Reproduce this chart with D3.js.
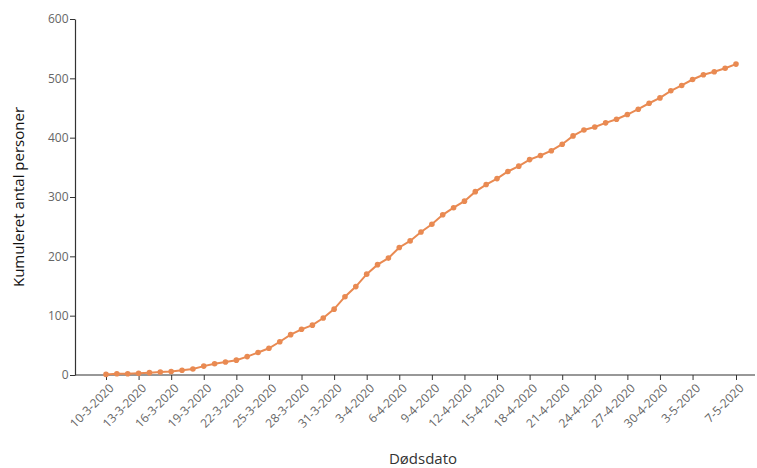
<!DOCTYPE html>
<html>
<head>
<meta charset="utf-8">
<script src="https://cdn.jsdelivr.net/npm/d3@7"></script>
<style>
  html, body { margin: 0; padding: 0; background: #fff; }
  svg { display: block; }
</style>
</head>
<body>
<svg id="chart" width="757" height="468"></svg>
<script>
const dates = [
  "10-3-2020","11-3-2020","12-3-2020","13-3-2020","14-3-2020","15-3-2020","16-3-2020","17-3-2020","18-3-2020","19-3-2020",
  "20-3-2020","21-3-2020","22-3-2020","23-3-2020","24-3-2020","25-3-2020","26-3-2020","27-3-2020","28-3-2020","29-3-2020",
  "30-3-2020","31-3-2020","1-4-2020","2-4-2020","3-4-2020","4-4-2020","5-4-2020","6-4-2020","7-4-2020","8-4-2020",
  "9-4-2020","10-4-2020","11-4-2020","12-4-2020","13-4-2020","14-4-2020","15-4-2020","16-4-2020","17-4-2020","18-4-2020",
  "19-4-2020","20-4-2020","21-4-2020","22-4-2020","23-4-2020","24-4-2020","25-4-2020","26-4-2020","27-4-2020","28-4-2020",
  "29-4-2020","30-4-2020","1-5-2020","2-5-2020","3-5-2020","4-5-2020","5-5-2020","6-5-2020","7-5-2020"
];
const cumulative = [
  1,2,2,3,4,5,6,8,10,15,
  19,22,25,31,38,45,56,68,77,84,
  96,111,132,149,170,186,197,215,226,241,
  254,270,282,293,309,321,331,343,352,363,
  370,378,389,403,413,418,425,431,439,448,
  458,467,479,488,498,506,511,517,524
];
const xTickLabels = ["10-3-2020","13-3-2020","16-3-2020","19-3-2020","22-3-2020","25-3-2020","28-3-2020","31-3-2020",
  "3-4-2020","6-4-2020","9-4-2020","12-4-2020","15-4-2020","18-4-2020","21-4-2020","24-4-2020","27-4-2020","30-4-2020",
  "3-5-2020","7-5-2020"];
const yTicks = [0,100,200,300,400,500,600];
const yTitle = "Kumuleret antal personer";
const xTitle = "Dødsdato";

const svg = d3.select("#chart");
const font = "'Open Sans', 'DejaVu Sans', sans-serif";
const lineColor = "#e98a52";

const x = d3.scalePoint().domain(dates).range([106, 736]);
const y = d3.scaleLinear().domain([0, 600]).range([375, 19]);
const axisLeftX = 75, axisRightX = 755;

// Y axis
const gy = svg.append("g").attr("transform", `translate(${axisLeftX},0)`)
  .call(d3.axisLeft(y).tickValues(yTicks).tickSize(5).tickPadding(1.5).tickSizeOuter(0));
gy.select(".domain").attr("stroke", "#333").attr("stroke-width", 1.2);
gy.selectAll(".tick line").attr("stroke", "#333");
gy.selectAll(".tick text").attr("fill", "#666").style("font-family", font).style("font-size", "12px");

// X axis
const gx = svg.append("g").attr("transform", `translate(0,${y(0)})`)
  .call(d3.axisBottom(x).tickValues(xTickLabels).tickSize(5).tickSizeOuter(0));
gx.select(".domain").remove();
gx.selectAll(".tick line").attr("stroke", "#333");
gx.selectAll(".tick text")
  .attr("fill", "#666")
  .style("font-family", font).style("font-size", "12px")
  .attr("text-anchor", "end")
  .attr("x", 0).attr("y", 0).attr("dy", 0)
  .attr("transform", "translate(8,14) rotate(-45)");
svg.append("line")
  .attr("x1", axisLeftX).attr("x2", axisRightX)
  .attr("y1", y(0)).attr("y2", y(0))
  .attr("stroke", "#333").attr("stroke-width", 1.2);

// Line
const line = d3.line().x((d, i) => x(dates[i])).y(d => y(d));
svg.append("path").datum(cumulative)
  .attr("d", line).attr("fill", "none")
  .attr("stroke", lineColor).attr("stroke-width", 2);
svg.append("g").selectAll("circle").data(cumulative).join("circle")
  .attr("cx", (d, i) => x(dates[i])).attr("cy", d => y(d))
  .attr("r", 2.8).attr("fill", lineColor);

// Titles
svg.append("text")
  .attr("transform", `translate(24,${(y(0) + y(600)) / 2}) rotate(-90)`)
  .attr("text-anchor", "middle")
  .style("font-family", font).style("font-size", "15px").attr("fill", "#111")
  .text(yTitle);
svg.append("text")
  .attr("x", 423).attr("y", 464)
  .attr("text-anchor", "middle")
  .style("font-family", font).style("font-size", "15px").attr("fill", "#333")
  .text(xTitle);
</script>
</body>
</html>
